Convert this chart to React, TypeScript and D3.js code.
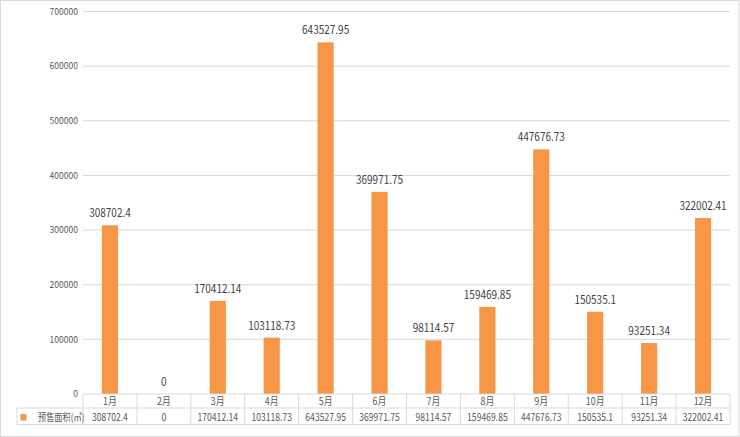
import React from 'react';
import * as d3 from 'd3';

const categories = ['1月', '2月', '3月', '4月', '5月', '6月', '7月', '8月', '9月', '10月', '11月', '12月'];
const values = [308702.4, 0, 170412.14, 103118.73, 643527.95, 369971.75, 98114.57, 159469.85, 447676.73, 150535.1, 93251.34, 322002.41];
const valueLabels = ['308702.4', '0', '170412.14', '103118.73', '643527.95', '369971.75', '98114.57', '159469.85', '447676.73', '150535.1', '93251.34', '322002.41'];
const yTicks = [0, 100000, 200000, 300000, 400000, 500000, 600000, 700000];
const seriesName = '预售面积(㎡)';

const W = 740;
const H = 437;
const left = 83;
const right = 730;
const top = 11.5;
const bottom = 394;
const row1 = 408;
const row2 = 424.5;
const legendLeft = 17;
const font = '"Noto Sans CJK SC", "Noto Sans", sans-serif';
const orange = '#F79646';

function SText(props: { x: number; y: number; sx: number; size: number; anchor?: string; fill?: string; children: React.ReactNode }) {
  const { x, y, sx, size, anchor = 'middle', fill = '#595959', children } = props;
  return (
    <text transform={`translate(${x},${y}) scale(${sx},1)`} textAnchor={anchor} fontSize={size} fill={fill}>
      {children}
    </text>
  );
}

export default function App() {
  const x = d3.scaleBand<string>().domain(categories).range([left, right]).paddingInner(0.7).paddingOuter(0.35);
  const band = d3.scaleBand<string>().domain(categories).range([left, right]).padding(0);
  const y = d3.scaleLinear().domain([0, 700000]).range([bottom, top]);
  const grid = '#D9D9D9';
  return (
    <svg width={W} height={H} style={{ position: 'fixed', left: 0, top: 0, background: '#fff' }} fontFamily={font}>
      <rect x={0.5} y={0.5} width={W - 1.5} height={H - 1} fill="#fff" stroke="#D9D9D9" />
      {yTicks.map((t) => (
        <g key={t}>
          {t > 0 && <line x1={left} x2={right} y1={y(t)} y2={y(t)} stroke={grid} strokeWidth={1} />}
          <SText x={78} y={y(t) + 3.3} sx={0.95} size={9} anchor="end">{t}</SText>
        </g>
      ))}
      {values.map((v, i) => (
        <rect key={categories[i]} x={x(categories[i])} y={y(v)} width={x.bandwidth()} height={bottom - y(v)} fill={orange} />
      ))}
      {values.map((v, i) => (
        <SText key={'l' + i} x={(x(categories[i]) as number) + x.bandwidth() / 2} y={y(v) - 8} sx={0.87} size={11.5} fill="#404040">{valueLabels[i]}</SText>
      ))}
      {/* data table */}
      <line x1={left} x2={right} y1={bottom} y2={bottom} stroke={grid} />
      <line x1={legendLeft} x2={right} y1={row1} y2={row1} stroke={grid} />
      <line x1={legendLeft} x2={right} y1={row2} y2={row2} stroke={grid} />
      <line x1={legendLeft} x2={legendLeft} y1={row1} y2={row2} stroke={grid} />
      {categories.map((c) => (
        <line key={'v' + c} x1={band(c)} x2={band(c)} y1={bottom} y2={row2} stroke={grid} />
      ))}
      <line x1={right} x2={right} y1={bottom} y2={row2} stroke={grid} />
      {categories.map((c, i) => (
        <g key={'t' + c}>
          <SText x={(band(c) as number) + band.bandwidth() / 2} y={405.3} sx={0.85} size={10.5}>{c}</SText>
          <SText x={(band(c) as number) + band.bandwidth() / 2} y={421.3} sx={0.82} size={10.5}>{valueLabels[i]}</SText>
        </g>
      ))}
      <rect x={20.5} y={414} width={6} height={6.5} fill={orange} />
      <SText x={38} y={421.3} sx={0.82} size={10} anchor="start">{seriesName}</SText>
    </svg>
  );
}
